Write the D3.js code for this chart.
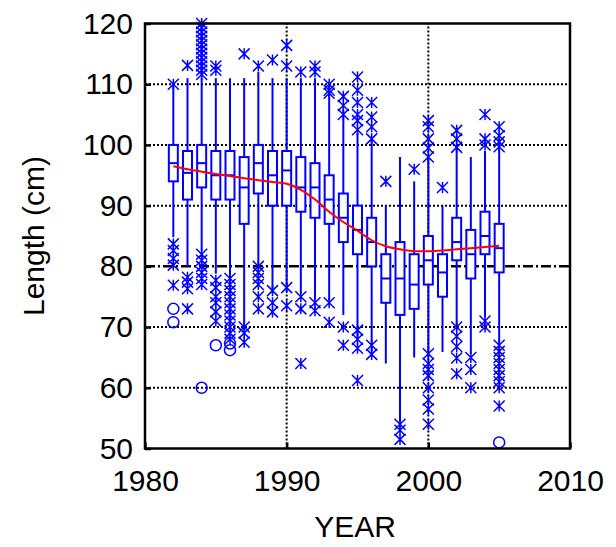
<!DOCTYPE html>
<html><head><meta charset="utf-8">
<script src="https://cdn.jsdelivr.net/npm/d3@7"></script>
<style>body{margin:0;background:#fff}text{font-family:"Liberation Sans",Arial,sans-serif}</style>
</head><body>
<script>
var years = [1982,1983,1984,1985,1986,1987,1988,1989,1990,1991,1992,1993,1994,1995,1996,1997,1998,1999,2000,2001,2002,2003,2004,2005];
var q1 =     [94,91,93,91,91,87,92,90,90,89,88,87,84,82,80,74,72,73,77,75,81,78,82,79];
var median = [97,95.4,97,95,95,93,97,95,95.8,93,93,91,88,86,84,78,78,77,81,79,84,82,85,83];
var q3 =     [100,99,100,99,99,98,100,99,99,98,97,95,92,90,88,82,84,82,85,82,88,86,89,87];
var whiskLo = [84.8,80,82.6,78.8,78,70,80,76,76,75.5,74.4,74.4,72,68,66,64,54,65,65,65.9,70,65.6,71.6,67];
var whiskHi = [110,111,111,111,111,111,112,111,111,111,111,110,105.7,102,101,90,98,94,98,90,100,98,99,99.7];
var stars = [
  [110,83.7,82.6,81.3,80.2,76.9],
  [113.1,78.2,77.4,76.3,73],
  [120,119.3,118.6,117.9,117.2,116.5,115.8,115.1,114.4,113.7,113,112.3,111.6,82,81,80,79,78,77],
  [113,112.3,77.7,76.5,75,74,72.5,71],
  [78,77,76,75,74,73,72,71,70,69,68],
  [115,70,69,67.5],
  [113,80,79,78,77,75,73],
  [114,76,74,72.5],
  [116.4,113,76.5,73.5],
  [112,75,73,64],
  [113,112,74,72.7],
  [110,109,108.5,74,70.8],
  [108,106.5,105,70,67],
  [111.2,109,107,105,104,102.5,69.5,68,66.5,61.2],
  [107,104.6,103,101,67,65.5],
  [94],
  [54,53,51.5],
  [96],
  [104,103,101,99.5,98,65.6,64,63,62,60,58,56.5,54],
  [93],
  [102.4,101,99.6,70,68.5,66.8,64.9,62.3],
  [65,63,60],
  [105,101,100,71,70],
  [103,101.5,100.5,99.7,67,66,65,64,63,62,61,60,57]
];
var circles = [[73,70.8],[],[60],[67],[67.3,66.2],[],[],[],[],[],[],[],[],[],[],[],[],[],[],[],[],[],[],[51]];
var trend = [96.5,96,95.6,95.2,94.9,94.5,94.2,93.9,93.6,92.6,91,89,87.3,85.9,84.3,83.3,82.8,82.5,82.5,82.6,82.8,83,83.2,83.4];
var xTicks = [1980,1990,2000,2010];
var yTicks = [50,60,70,80,90,100,110,120];

var W = 616, H = 547;
var svg = d3.select("body").append("svg").attr("width", W).attr("height", H);
var x = d3.scaleLinear().domain([1980, 2010]).range([145, 570]);
var y = d3.scaleLinear().domain([50, 120]).range([448.5, 23.5]);
var blue = "#0000ff";

// grid
svg.selectAll(".gy").data(yTicks.slice(1, -1)).enter().append("line")
  .attr("x1", x(1980)).attr("x2", x(2010)).attr("y1", d => y(d)).attr("y2", d => y(d))
  .attr("stroke", "#000").attr("stroke-width", d => d == 80 ? 2.5 : 2)
  .attr("stroke-dasharray", d => d == 80 ? "10,3,2,3" : "2,2");
svg.selectAll(".gx").data(xTicks.slice(1, -1)).enter().append("line")
  .attr("y1", y(50)).attr("y2", y(120)).attr("x1", d => x(d)).attr("x2", d => x(d))
  .attr("stroke", "#000").attr("stroke-width", 2).attr("stroke-dasharray", "2,2");

var bw = 9;
var g = svg.selectAll(".box").data(years).enter().append("g");
g.append("line").attr("x1", d => x(d)).attr("x2", d => x(d))
  .attr("y1", (d, i) => y(whiskHi[i])).attr("y2", (d, i) => y(whiskLo[i]))
  .attr("stroke", blue).attr("stroke-width", 2);
g.append("rect").attr("x", d => x(d) - bw / 2).attr("width", bw)
  .attr("y", (d, i) => y(q3[i])).attr("height", (d, i) => y(q1[i]) - y(q3[i]))
  .attr("fill", "#fff").attr("stroke", blue).attr("stroke-width", 2);
g.append("line").attr("x1", d => x(d) - bw / 2).attr("x2", d => x(d) + bw / 2)
  .attr("y1", (d, i) => y(median[i])).attr("y2", (d, i) => y(median[i]))
  .attr("stroke", blue).attr("stroke-width", 2);

var sp = [], cp = [];
years.forEach(function (yr, i) {
  stars[i].forEach(v => sp.push([yr, v]));
  circles[i].forEach(v => cp.push([yr, v]));
});
var s = 5.5;
svg.selectAll(".st").data(sp).enter().append("path")
  .attr("d", d => {
    var cx = x(d[0]), cy = y(d[1]);
    return "M" + (cx - s) + "," + (cy - s) + "L" + (cx + s) + "," + (cy + s) +
      "M" + (cx - s) + "," + (cy + s) + "L" + (cx + s) + "," + (cy - s) +
      "M" + cx + "," + (cy - s) + "L" + cx + "," + (cy + s);
  })
  .attr("stroke", blue).attr("stroke-width", 1.5).attr("fill", "none");
svg.selectAll(".ci").data(cp).enter().append("circle")
  .attr("cx", d => x(d[0])).attr("cy", d => y(d[1])).attr("r", 5.5)
  .attr("fill", "none").attr("stroke", blue).attr("stroke-width", 1.5);

svg.append("path").datum(years)
  .attr("d", d3.line().x(d => x(d)).y((d, i) => y(trend[i])).curve(d3.curveMonotoneX))
  .attr("fill", "none").attr("stroke", "#ff0000").attr("stroke-width", 2);

// frame + axes
svg.append("rect").attr("x", x(1980)).attr("y", y(120)).attr("width", x(2010) - x(1980))
  .attr("height", y(50) - y(120)).attr("fill", "none").attr("stroke", "#000").attr("stroke-width", 2.5);
var xa = svg.append("g").attr("transform", "translate(0," + y(50) + ")")
  .call(d3.axisBottom(x).tickValues(xTicks).tickFormat(d3.format("d")).tickSize(-6).tickPadding(21));
var ya = svg.append("g").attr("transform", "translate(" + x(1980) + ",0)")
  .call(d3.axisLeft(y).tickValues(yTicks).tickSize(-6).tickPadding(12));
[xa, ya].forEach(a => {
  a.select(".domain").remove();
  a.selectAll("line").attr("stroke-width", 2.5);
  a.selectAll("text").attr("font-size", 30).attr("fill", "#000")
    .attr("font-family", "Liberation Sans, Arial, sans-serif");
});
svg.append("text").attr("x", 355).attr("y", 537).attr("text-anchor", "middle")
  .attr("font-size", 30).text("YEAR");
svg.append("text").attr("transform", "translate(44," + y(85) + ") rotate(-90)")
  .attr("text-anchor", "middle").attr("font-size", 30).text("Length (cm)");
</script>
</body></html>
